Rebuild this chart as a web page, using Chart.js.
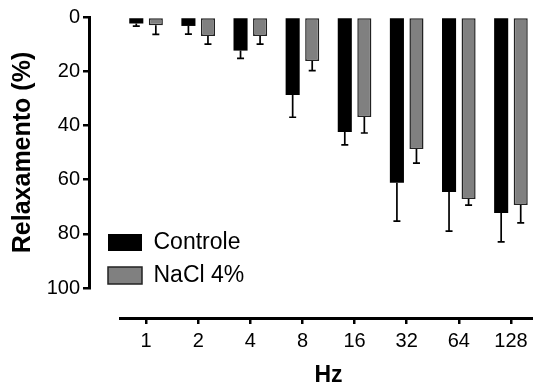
<!DOCTYPE html>
<html>
<head>
<meta charset="utf-8">
<script src="https://cdn.jsdelivr.net/npm/chart.js@4"></script>
<style>
  html, body { margin: 0; padding: 0; background: #fff; overflow: hidden; width: 533px; height: 384px; }
  canvas { display: block; }
</style>
</head>
<body>
<canvas id="grafico" width="545" height="384"></canvas>
<script>
// Dados (relaxamento em %, barras penduradas a partir do 0)
const categorias = ['1', '2', '4', '8', '16', '32', '64', '128'];
const controle = [2.4, 3.3, 12.4, 28.8, 42.4, 61.2, 64.6, 72.3];
const controleErro = [1.0, 3.0, 2.9, 8.2, 4.8, 14.1, 14.4, 10.7];
const nacl = [3.0, 7.0, 7.0, 16.2, 36.9, 48.7, 67.2, 69.4];
const naclErro = [3.4, 3.0, 3.0, 3.6, 5.9, 5.2, 2.2, 6.6];
const ticksY = [0, 20, 40, 60, 80, 100];

Chart.defaults.font.family = "'Liberation Sans', Arial, sans-serif";
Chart.defaults.color = '#000';

// Barras de erro (só para baixo, como no original)
const barrasErro = {
  id: 'barrasErro',
  afterDatasetsDraw(chart) {
    const { ctx, scales: { y } } = chart;
    ctx.save();
    ctx.strokeStyle = '#000';
    ctx.lineWidth = 1.7;
    chart.data.datasets.forEach((ds, i) => {
      chart.getDatasetMeta(i).data.forEach((barra, j) => {
        const v = ds.data[j];
        const y0 = y.getPixelForValue(v);
        const y1 = y.getPixelForValue(v + ds.erro[j]);
        ctx.beginPath();
        ctx.moveTo(barra.x, y0);
        ctx.lineTo(barra.x, y1);
        ctx.moveTo(barra.x - 3.5, y1);
        ctx.lineTo(barra.x + 3.5, y1);
        ctx.stroke();
      });
    });
    ctx.restore();
  }
};

// Eixos separados (estilo GraphPad) e legenda dentro da área
const deslocar = {
  id: 'deslocar',
  afterLayout(chart) {
    const { x, y } = chart.scales;
    y.right -= 31;
    x.top += 30;
    x.bottom += 30;
    const lg = chart.legend;
    lg.left -= 22; lg.right -= 22;
    lg.top += 26; lg.bottom += 26;
  }
};

const eixo = {
  drawOnChartArea: false,
  drawTicks: true,
  tickLength: 6,
  color: '#000',
  lineWidth: 2.5,
  offset: false
};

new Chart(document.getElementById('grafico'), {
  type: 'bar',
  data: {
    labels: categorias,
    datasets: [
      {
        label: 'Controle',
        data: controle,
        erro: controleErro,
        backgroundColor: '#000',
        borderColor: '#000',
        borderWidth: 0,
        borderSkipped: false,
        barPercentage: 0.72,
        categoryPercentage: 0.75
      },
      {
        label: 'NaCl 4%',
        data: nacl,
        erro: naclErro,
        backgroundColor: '#808080',
        borderColor: '#222',
        borderWidth: 1.5,
        borderSkipped: false,
        barPercentage: 0.72,
        categoryPercentage: 0.75
      }
    ]
  },
  options: {
    responsive: false,
    animation: false,
    events: [],
    layout: { padding: { left: 0, right: 8, top: 17, bottom: 30 } },
    plugins: {
      tooltip: { enabled: false },
      legend: {
        position: 'chartArea',
        align: 'end',
        labels: {
          boxWidth: 34,
          boxHeight: 17,
          padding: 10,
          color: '#000',
          font: { size: 23 }
        }
      }
    },
    scales: {
      x: {
        grid: eixo,
        border: { color: '#000', width: 3 },
        ticks: { color: '#000', padding: 5, font: { size: 20 } },
        title: {
          display: true,
          text: 'Hz',
          color: '#000',
          font: { size: 23, weight: 'bold' },
          padding: { top: 0, bottom: -5 }
        },
        afterFit(s) { s.height = 66; }
      },
      y: {
        reverse: true,
        min: 0,
        max: 100,
        grid: eixo,
        border: { color: '#000', width: 3 },
        ticks: { color: '#000', padding: 3, font: { size: 20 } },
        afterBuildTicks(s) { s.ticks = ticksY.map(v => ({ value: v })); },
        title: {
          display: true,
          text: 'Relaxamento (%)',
          color: '#000',
          font: { size: 25, weight: 'bold' },
          padding: { top: 8, bottom: 0 }
        },
        afterFit(s) { s.width = 120; }
      }
    }
  },
  plugins: [barrasErro, deslocar]
});
</script>
</body>
</html>
